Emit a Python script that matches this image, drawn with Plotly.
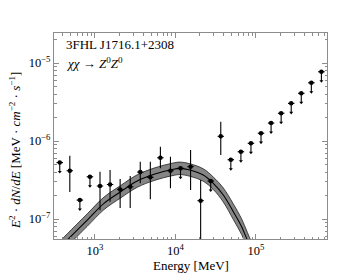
import plotly.graph_objects as go

# ---- data ----
energy = [365.2, 487.0, 649.4, 866.0, 1154.8, 1540.0, 2053.5, 2738.4, 3651.7, 4869.7,
          6493.8, 8659.6, 11548, 15399, 20535, 27384, 36517, 48697, 64938, 86596,
          115478, 153993, 205353, 273842, 365174, 486968, 649382]
flux = [5.3e-7, 4.16e-7, 1.75e-7, 3.48e-7, 2.65e-7, 2.77e-7, 2.40e-7, 2.59e-7, 4.0e-7, 3.43e-7,
        6.1e-7, 4.16e-7, 4.47e-7, 4.69e-7, 1.72e-7, 3.07e-7, 1.15e-6, 5.76e-7, 7.29e-7, 9.35e-7,
        1.26e-6, 1.70e-6, 2.27e-6, 3.04e-6, 4.09e-6, 5.58e-6, 7.73e-6]
flux_hi = [None, 6.49e-7, None, None, 4.04e-7, 4.25e-7, 3.26e-7, 3.56e-7, 5.43e-7, 5.43e-7,
           8.45e-7, 6.3e-7, None, 7.67e-7, 3.16e-7, None, 1.77e-6, None, None, None,
           None, None, None, None, None, None, None]
flux_lo = [None, 2.22e-7, None, None, 1.30e-7, 1.67e-7, 1.38e-7, 1.38e-7, 2.87e-7, 1.79e-7,
           4.47e-7, 2.48e-7, None, 2.36e-7, 1.0e-8, None, 6.62e-7, None, None, None,
           None, None, None, None, None, None, None]
upper_limit = [True, False, True, True, False, False, False, False, False, False,
               False, False, True, False, False, True, False, True, True, True,
               True, True, True, True, True, True, True]

model_energy = [354.8, 452.9, 801.7, 1294, 2084, 3350, 5408, 9057, 11376, 15136,
                22131, 29512, 39264, 52240, 66374, 77983, 89125]
model_flux = [4.17e-8, 5.38e-8, 9.70e-8, 1.589e-7, 2.239e-7, 3.069e-7, 3.741e-7, 4.315e-7, 4.467e-7, 4.246e-7,
              3.664e-7, 2.871e-7, 2.032e-7, 1.242e-7, 7.96e-8, 5.38e-8, 3.89e-8]
model_hi = [5.01e-8, 6.47e-8, 1.166e-7, 1.910e-7, 2.691e-7, 3.689e-7, 4.497e-7, 5.187e-7, 5.369e-7, 5.104e-7,
            4.404e-7, 3.451e-7, 2.50e-7, 1.564e-7, 1.002e-7, 6.77e-8, 4.90e-8]
model_lo = [3.47e-8, 4.48e-8, 8.07e-8, 1.322e-7, 1.863e-7, 2.553e-7, 3.112e-7, 3.590e-7, 3.716e-7, 3.532e-7,
            3.048e-7, 2.389e-7, 1.652e-7, 9.87e-8, 6.32e-8, 4.27e-8, 3.09e-8]

x_tick_vals = [1e3, 1e4, 1e5]
x_tick_text = ["10<sup>3</sup>", "10<sup>4</sup>", "10<sup>5</sup>"]
y_tick_vals = [1e-7, 1e-6, 1e-5]
y_tick_text = ["10<sup>\u22127</sup>", "10<sup>\u22126</sup>", "10<sup>\u22125</sup>"]

source_name = "3FHL J1716.1+2308"
channel = "<i>\u03c7\u03c7</i> \u2192 <i>Z</i><sup>0</sup><i>Z</i><sup>0</sup>"
x_title = "Energy [MeV]"
y_title = ("<i>E</i><sup>2</sup> \u00b7 <i>dN</i>/<i>dE</i> [MeV \u00b7 <i>cm</i><sup>\u22122</sup>"
           " \u00b7 <i>s</i><sup>\u22121</sup>]")

# ---- style ----
XHALF = 0.04      # half width of energy bars, decades
UL_DROP = 0.76    # arrow length factor for upper limits
FONT = "Liberation Serif, Times New Roman, DejaVu Serif, serif"
AX = "#8c8c8c"

fig = go.Figure()

# model band
fig.add_trace(go.Scatter(x=model_energy, y=model_lo, mode="lines", line=dict(color="#222", width=0.8, shape="spline"),
                         hoverinfo="skip", showlegend=False))
fig.add_trace(go.Scatter(x=model_energy, y=model_hi, mode="lines", line=dict(color="#222", width=0.8, shape="spline"),
                         fill="tonexty", fillcolor="#858585", hoverinfo="skip", showlegend=False))
fig.add_trace(go.Scatter(x=model_energy, y=model_flux, mode="lines", line=dict(color="black", width=1.1, shape="spline"),
                         hoverinfo="skip", showlegend=False))

xp = 10 ** XHALF - 1
xm = 1 - 10 ** (-XHALF)

# detections
det = [i for i in range(len(energy)) if not upper_limit[i]]
fig.add_trace(go.Scatter(
    x=[energy[i] for i in det], y=[flux[i] for i in det], mode="markers",
    marker=dict(color="black", size=4.5),
    error_x=dict(type="data", symmetric=False, array=[energy[i] * xp for i in det],
                 arrayminus=[energy[i] * xm for i in det], color="black", thickness=1, width=0),
    error_y=dict(type="data", symmetric=False, array=[flux_hi[i] - flux[i] for i in det],
                 arrayminus=[flux[i] - flux_lo[i] for i in det], color="black", thickness=1.1, width=0),
    showlegend=False))

# upper limits
ul = [i for i in range(len(energy)) if upper_limit[i]]
fig.add_trace(go.Scatter(
    x=[energy[i] for i in ul], y=[flux[i] for i in ul], mode="markers",
    marker=dict(color="black", size=4.5),
    error_x=dict(type="data", symmetric=False, array=[energy[i] * xp for i in ul],
                 arrayminus=[energy[i] * xm for i in ul], color="black", thickness=1.2, width=0),
    error_y=dict(type="data", symmetric=False, array=[0] * len(ul),
                 arrayminus=[flux[i] * (1 - UL_DROP) for i in ul], color="black", thickness=1.1, width=0),
    showlegend=False))
fig.add_trace(go.Scatter(
    x=[energy[i] for i in ul], y=[flux[i] * UL_DROP for i in ul], mode="markers",
    marker=dict(color="black", size=3.5, symbol="triangle-down"),
    showlegend=False))

minor_x = [m * 10 ** e for e in range(2, 6) for m in range(2, 10)]
minor_y = [m * 10 ** e for e in range(-8, -4) for m in range(2, 10)]

fig.update_xaxes(type="log", range=[2.491, 5.882], tickvals=x_tick_vals, ticktext=x_tick_text,
                 ticks="inside", ticklen=5, tickcolor=AX, showline=True, linecolor=AX, linewidth=1,
                 mirror="ticks", showgrid=False, zeroline=False, automargin=False,
                 minor=dict(tickvals=minor_x, ticks="inside", ticklen=2.5, tickcolor=AX, showgrid=False),
                 tickfont=dict(family=FONT, size=12.5, color="black"))
fig.update_yaxes(type="log", range=[-7.256, -4.615], tickvals=y_tick_vals, ticktext=y_tick_text,
                 ticks="inside", ticklen=5, tickcolor=AX, showline=True, linecolor=AX, linewidth=1,
                 mirror="ticks", showgrid=False, zeroline=False, automargin=False,
                 minor=dict(tickvals=minor_y, ticks="inside", ticklen=2.5, tickcolor=AX, showgrid=False),
                 tickfont=dict(family=FONT, size=12.5, color="black"))

fig.add_annotation(text=x_title, xref="paper", yref="paper", x=0.5, y=-0.127,
                   xanchor="center", yanchor="middle", showarrow=False,
                   font=dict(family=FONT, size=13, color="black"))
fig.add_annotation(text=y_title, xref="paper", yref="paper", x=-0.143, y=0.432, textangle=-90,
                   xanchor="center", yanchor="middle", showarrow=False,
                   font=dict(family=FONT, size=13, color="black"))
fig.add_annotation(text=source_name, xref="paper", yref="paper", x=0.038, y=0.942,
                   xanchor="left", yanchor="middle", showarrow=False,
                   font=dict(family=FONT, size=13, color="black"))
fig.add_annotation(text=channel, xref="paper", yref="paper", x=0.038, y=0.856,
                   xanchor="left", yanchor="middle", showarrow=False,
                   font=dict(family=FONT, size=13, color="black"))

# page adds an 8px body margin, so the figure is sized to fit the 363x273 window
fig.update_layout(width=355, height=265, margin=dict(l=46, r=36, t=25, b=34),
                  paper_bgcolor="white", plot_bgcolor="white", showlegend=False)

fig.write_html("out.html")
